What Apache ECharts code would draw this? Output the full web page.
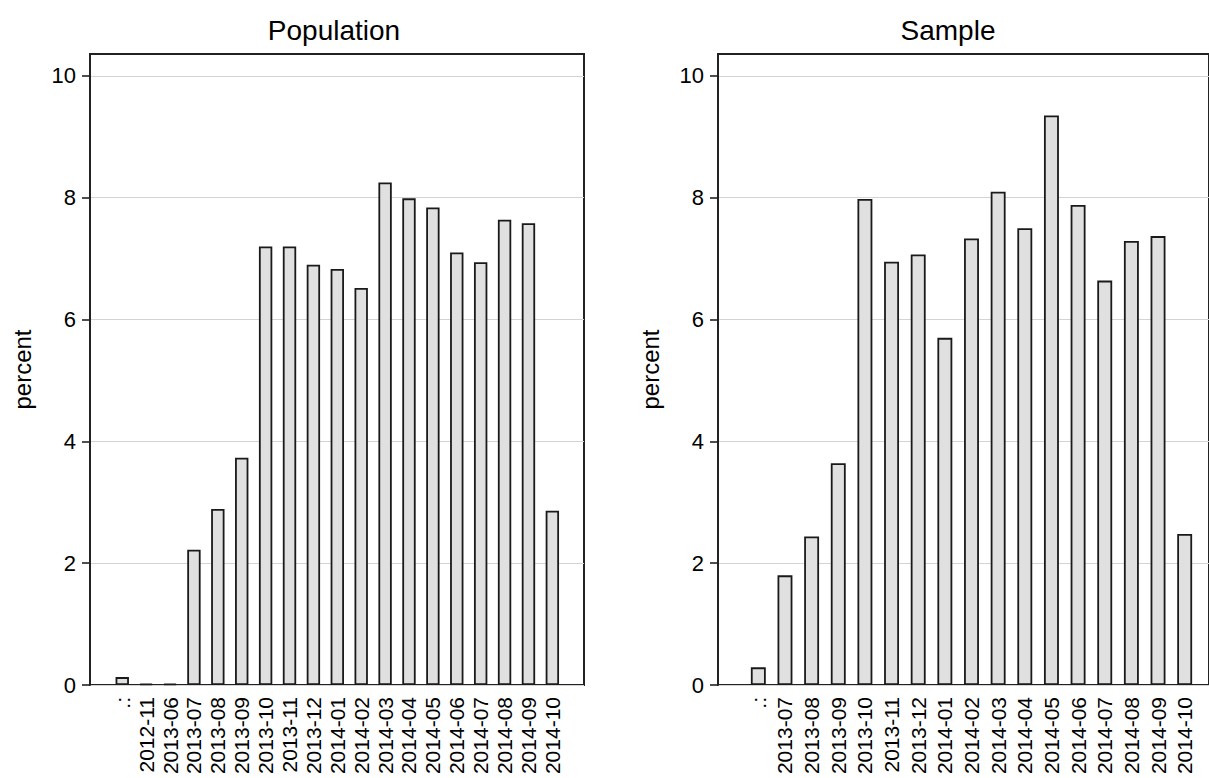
<!DOCTYPE html>
<html>
<head>
<meta charset="utf-8">
<script src="https://cdn.jsdelivr.net/npm/echarts@6/dist/echarts.min.js"></script>
<style>
  html, body { margin: 0; padding: 0; background: #ffffff; }
  #chart { width: 1209px; height: 778px; }
</style>
</head>
<body>
<div id="chart"></div>
<script>
// Monthly share of records (percent), population vs. sample
const popCategories = ['.:', '2012-11', '2013-06', '2013-07', '2013-08', '2013-09', '2013-10', '2013-11', '2013-12',
  '2014-01', '2014-02', '2014-03', '2014-04', '2014-05', '2014-06', '2014-07', '2014-08', '2014-09', '2014-10'];
const popValues = [0.13, 0.02, 0.02, 2.22, 2.89, 3.73, 7.2, 7.2, 6.9,
  6.83, 6.52, 8.25, 7.99, 7.84, 7.1, 6.94, 7.64, 7.58, 2.86];

const sampleCategories = ['.:', '2013-07', '2013-08', '2013-09', '2013-10', '2013-11', '2013-12',
  '2014-01', '2014-02', '2014-03', '2014-04', '2014-05', '2014-06', '2014-07', '2014-08', '2014-09', '2014-10'];
const sampleValues = [0.29, 1.8, 2.44, 3.64, 7.98, 6.95, 7.07,
  5.7, 7.33, 8.1, 7.5, 9.35, 7.88, 6.64, 7.29, 7.37, 2.48];

const yTicks = [0, 2, 4, 6, 8, 10];
const panelTitles = ['Population', 'Sample'];
const yTitle = 'percent';

const FONT = '"Liberation Sans", Arial, Helvetica, sans-serif';
const Y_MAX = 10.36;
const TOP = 54, HEIGHT = 631;

function frameY(gridIndex) {
  return {
    gridIndex: gridIndex,
    type: 'value',
    min: 0,
    max: Y_MAX,
    interval: 2,
    name: yTitle,
    nameLocation: 'middle',
    nameGap: 56,
    nameTextStyle: { fontFamily: FONT, fontSize: 24, color: '#000' },
    axisLine: { show: true, lineStyle: { color: '#222', width: 2 } },
    axisTick: { show: true, length: 8, customValues: yTicks, lineStyle: { color: '#222', width: 1.6 } },
    axisLabel: { customValues: yTicks, margin: 14, fontFamily: FONT, fontSize: 22, color: '#000' },
    splitLine: { show: true, lineStyle: { color: '#d4d4d4', width: 1 } }
  };
}
function hiddenY(gridIndex) {
  return { gridIndex: gridIndex, type: 'value', min: 0, max: Y_MAX, show: false, splitLine: { show: false } };
}
function catX(gridIndex, cats) {
  return {
    gridIndex: gridIndex,
    type: 'category',
    data: cats,
    boundaryGap: true,
    axisLine: { show: false },
    axisTick: { show: false },
    axisLabel: { interval: 0, rotate: 90, margin: 12, fontFamily: FONT, fontSize: 21, color: '#000' }
  };
}
function barSeries(axisIndex, values) {
  return {
    type: 'bar',
    xAxisIndex: axisIndex,
    yAxisIndex: axisIndex,
    data: values,
    barWidth: '56%',
    itemStyle: { color: '#e0e0e0', borderColor: '#1a1a1a', borderWidth: 1.8 },
    silent: true,
    animation: false
  };
}

const chart = echarts.init(document.getElementById('chart'), null, { renderer: 'svg' });
chart.setOption({
  animation: false,
  backgroundColor: '#ffffff',
  title: [
    { text: panelTitles[0], left: 329, top: 11, textAlign: 'center',
      textStyle: { fontFamily: FONT, fontSize: 28, fontWeight: 'normal', color: '#000' } },
    { text: panelTitles[1], left: 943, top: 11, textAlign: 'center',
      textStyle: { fontFamily: FONT, fontSize: 28, fontWeight: 'normal', color: '#000' } }
  ],
  grid: [
    // framed plot regions
    { left: 90, top: TOP, width: 494, height: HEIGHT, show: true, borderColor: '#222', borderWidth: 2, backgroundColor: 'transparent' },
    { left: 110.3, top: TOP, width: 454, height: HEIGHT },
    { left: 718, top: TOP, width: 507, height: HEIGHT, show: true, borderColor: '#222', borderWidth: 2, backgroundColor: 'transparent' },
    { left: 745, top: TOP, width: 453, height: HEIGHT }
  ],
  xAxis: [
    { gridIndex: 0, type: 'value', show: false, min: 0, max: 1, splitLine: { show: false } },
    catX(1, popCategories),
    { gridIndex: 2, type: 'value', show: false, min: 0, max: 1, splitLine: { show: false } },
    catX(3, sampleCategories)
  ],
  yAxis: [frameY(0), hiddenY(1), frameY(2), hiddenY(3)],
  series: [barSeries(1, popValues), barSeries(3, sampleValues)]
});
</script>
</body>
</html>
